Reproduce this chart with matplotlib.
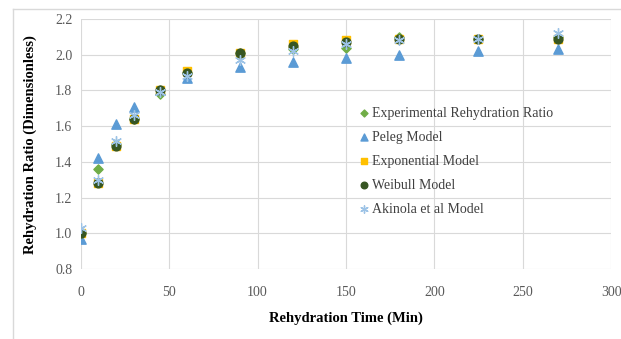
import numpy as np
import matplotlib.pyplot as plt
from matplotlib.lines import Line2D

plt.rcParams['font.family'] = ['Liberation Serif', 'DejaVu Serif']

# Rehydration time (min)
time = [0, 10, 20, 30, 45, 60, 90, 120, 150, 180, 225, 270]

# Rehydration ratio for each series
experimental = [1.00, 1.36, 1.50, 1.64, 1.78, 1.90, 2.01, 2.03, 2.04, 2.10, 2.09, 2.10]
peleg = [0.97, 1.42, 1.61, 1.71, 1.80, 1.87, 1.93, 1.96, 1.98, 2.00, 2.02, 2.03]
exponential = [1.00, 1.28, 1.49, 1.64, 1.80, 1.91, 2.01, 2.06, 2.08, 2.09, 2.09, 2.09]
weibull = [1.00, 1.28, 1.49, 1.64, 1.80, 1.90, 2.01, 2.05, 2.07, 2.09, 2.09, 2.09]
akinola = [1.03, 1.30, 1.52, 1.66, 1.79, 1.88, 1.97, 2.02, 2.06, 2.08, 2.09, 2.12]

fig = plt.figure(figsize=(6.21, 3.39), dpi=100)
ax = fig.add_axes([0.130, 0.206, 0.854, 0.738])

# Excel-like chart area border
fig.add_artist(Line2D([13/621, 1.0], [1 - 9/339, 1 - 9/339], color='#d9d9d9', lw=1))
fig.add_artist(Line2D([13/621, 13/621], [0.0, 1 - 9/339], color='#d9d9d9', lw=1))

ax.scatter(time, experimental, marker='D', s=22, color='#70ad47', label='Experimental Rehydration Ratio', zorder=3)
ax.scatter(time, peleg, marker='^', s=45, color='#5b9bd5', label='Peleg Model', zorder=3)
ax.scatter(time, exponential, marker='s', s=40, color='#ffc000', label='Exponential Model', zorder=3)
ax.scatter(time, weibull, marker='o', s=40, color='#375623', label='Weibull Model', zorder=3)
ax.scatter(time, akinola, marker=(6, 2, 0), s=50, color='#9dc3e6', linewidths=1, label='Akinola et al Model', zorder=4)

ax.set_xlim(0, 300)
ax.set_ylim(0.8, 2.2)
ax.set_xticks(np.arange(0, 301, 50))
ax.set_yticks(np.arange(0.8, 2.21, 0.2))
ax.set_yticklabels(['%.1f' % v for v in np.arange(0.8, 2.21, 0.2)])
ax.grid(True, color='#d9d9d9', lw=0.8)
ax.set_axisbelow(True)
for s in ax.spines.values():
    s.set_visible(False)
ax.tick_params(length=0, colors='#595959', labelsize=10)
ax.tick_params(axis='x', pad=12)
ax.tick_params(axis='y', pad=6)

ax.set_xlabel('Rehydration Time (Min)', fontsize=10.5, fontweight='bold', labelpad=9)
ax.set_ylabel('Rehydration Ratio (Dimensionless)', fontsize=10.5, fontweight='bold', labelpad=13)

ax.legend(loc='upper left', bbox_to_anchor=(0.51, 0.672), frameon=False, fontsize=10,
          handletextpad=0.1, labelspacing=0.8, borderaxespad=0, handlelength=1.0,
          markerscale=0.75, labelcolor='#404040')

fig.savefig('out.png', dpi=100)
